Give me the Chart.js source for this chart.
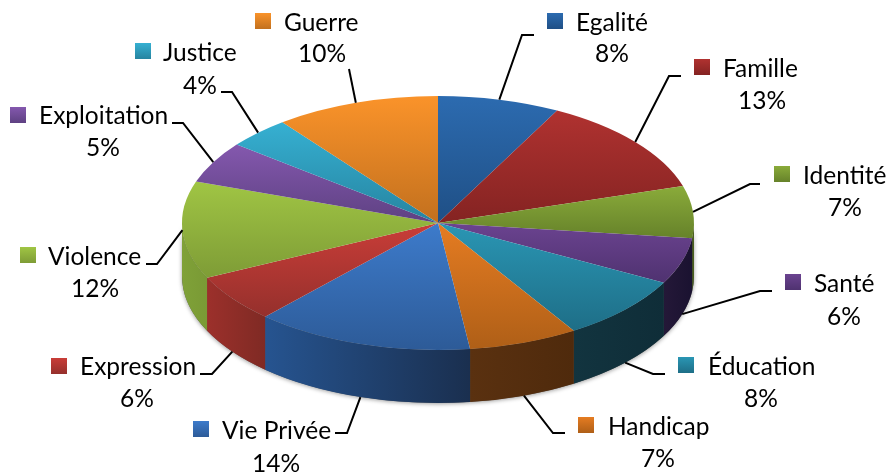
<!DOCTYPE html>
<html>
<head>
<meta charset="utf-8">
<script src="https://cdn.jsdelivr.net/npm/chart.js@4"></script>
<style>
  html, body { margin: 0; padding: 0; background: #fff; }
  canvas { display: block; }
</style>
</head>
<body>
<canvas id="grafico" width="890" height="472"></canvas>
<script>
// Dados (os rótulos mostram o valor arredondado)
const categories = ["Egalité", "Famille", "Identité", "Santé", "Éducation", "Handicap",
    "Vie Privée", "Expression", "Violence", "Exploitation", "Justice", "Guerre"];
const shares = [7.7, 12.6, 6.6, 5.9, 8.3, 6.9, 13.8, 6.1, 12.4, 5.3, 4.0, 10.4];

// Cores: topo claro -> topo escuro, lateral direita -> lateral esquerda
const lightColors = ["#2C6BB0", "#B03230", "#8AAB3A", "#6B4390", "#2A96B4", "#E57C22",
    "#3D7BCB", "#C93D38", "#A0C544", "#8458AE", "#36B0D2", "#FA932A"];
const darkColors = ["#1F4F85", "#842322", "#66822A", "#4F3270", "#1E6E87", "#AF5F17",
    "#2D5B98", "#95302C", "#7E9C36", "#5E4182", "#2684A0", "#C2701E"];
const sideRight = ["#1a3a60", "#5e1a18", "#4a5f1e", "#1a1230", "#0F2D38", "#4F2A0C",
    "#1A2F4F", "#7F2A24", "#7A9A35", "#4a3368", "#1c6a80", "#8f5316"];
const sideLeft = ["#1a3a60", "#5e1a18", "#4a5f1e", "#241838", "#12343F", "#5A3110",
    "#265490", "#9C302B", "#7FA138", "#4a3368", "#1c6a80", "#8f5316"];

// Posição da pizza na tela
const pie = { x: 438, y: 223, rx: 256, ry: 127, depth: 53 };

// Caixa de cada rótulo: quadradinho, texto, percentual, cotovelo da linha
const labelLayout = [
    { sx: 547, sy: 13, tx: 576, ty: 23, px: 612, py: 54, line: [[522, 35], [534, 35]] },
    { sx: 694, sy: 59, tx: 723, ty: 69, px: 762, py: 101, line: [[669, 76], [681, 76]] },
    { sx: 774, sy: 166, tx: 803, ty: 176, px: 845, py: 208, line: [[750, 184], [760, 184]] },
    { sx: 785, sy: 274, tx: 814, ty: 284, px: 844, py: 317, line: [[760, 291], [772, 291]] },
    { sx: 678, sy: 357, tx: 708, ty: 367, px: 761, py: 399, line: [[653, 374], [665, 374]] },
    { sx: 578, sy: 417, tx: 608, ty: 427, px: 658, py: 459, line: [[553, 433], [565, 433]] },
    { sx: 193, sy: 421, tx: 222, ty: 431, px: 276, py: 464, line: [[347, 433], [335, 433]] },
    { sx: 51, sy: 358, tx: 80, ty: 367, px: 137, py: 399, line: [[212, 374], [200, 374]] },
    { sx: 20, sy: 247, tx: 48, ty: 257, px: 95, py: 289, line: [[157, 264], [146, 264]] },
    { sx: 10, sy: 107, tx: 39, ty: 116, px: 103, py: 148, line: [[183, 123], [172, 123]] },
    { sx: 135, sy: 43, tx: 163, ty: 53, px: 200, py: 86, line: [[232, 92], [221, 92]] },
    { sx: 255, sy: 13, tx: 284, ty: 23, px: 322, py: 54, line: [[349, 69]] }
];

// Gradiente vertical do topo de cada fatia, em coordenadas do próprio gráfico
function sliceGradient(c) {
    const area = c.chart.chartArea;
    if (!area) return lightColors[c.dataIndex];
    const total = shares.reduce((a, b) => a + b, 0);
    const before = shares.slice(0, c.dataIndex).reduce((a, b) => a + b, 0);
    const a0 = (before / total) * Math.PI * 2 - Math.PI / 2;
    const a1 = ((before + shares[c.dataIndex]) / total) * Math.PI * 2 - Math.PI / 2;
    const cy = (area.top + area.bottom) / 2;
    const r = Math.min(area.width, area.height) / 2;
    let top = Math.min(0, Math.sin(a0), Math.sin(a1));
    let bottom = Math.max(0, Math.sin(a0), Math.sin(a1));
    const g = c.chart.ctx.createLinearGradient(0, cy + top * r, 0, cy + bottom * r);
    g.addColorStop(0, lightColors[c.dataIndex]);
    g.addColorStop(1, darkColors[c.dataIndex]);
    return g;
}

const pie3d = {
    id: "pie3d",
    beforeDatasetsDraw(chart) {
        const ctx = chart.ctx;
        const arcs = chart.getDatasetMeta(0).data;

        // sombra leve embaixo
        ctx.save();
        ctx.shadowColor = "rgba(0,0,0,0.4)";
        ctx.shadowBlur = 4;
        ctx.shadowOffsetY = 1;
        ctx.fillStyle = "#555";
        ctx.beginPath();
        ctx.ellipse(pie.x, pie.y, pie.rx, pie.ry, 0, 0, Math.PI);
        ctx.ellipse(pie.x, pie.y + pie.depth, pie.rx, pie.ry, 0, Math.PI, 0, true);
        ctx.closePath();
        ctx.fill();
        ctx.restore();

        // laterais visíveis (metade da frente)
        arcs.forEach(function (arc, i) {
            const p = arc.getProps(["startAngle", "endAngle"], true);
            const a = Math.max(p.startAngle, 0);
            const b = Math.min(p.endAngle, Math.PI);
            if (b <= a) return;
            const g = ctx.createLinearGradient(pie.x + pie.rx * Math.cos(a), 0, pie.x + pie.rx * Math.cos(b), 0);
            g.addColorStop(0, sideRight[i]);
            g.addColorStop(1, sideLeft[i]);
            ctx.fillStyle = g;
            ctx.beginPath();
            ctx.ellipse(pie.x, pie.y, pie.rx, pie.ry, 0, a, b);
            ctx.ellipse(pie.x, pie.y + pie.depth, pie.rx, pie.ry, 0, b, a, true);
            ctx.closePath();
            ctx.fill();
        });

        // achata o círculo do Chart.js na elipse do topo
        const first = arcs[0].getProps(["x", "y", "outerRadius"], true);
        ctx.save();
        ctx.translate(pie.x, pie.y);
        ctx.scale(pie.rx / first.outerRadius, pie.ry / first.outerRadius);
        ctx.translate(-first.x, -first.y);
    },
    afterDatasetsDraw(chart) {
        const ctx = chart.ctx;
        ctx.restore();

        const arcs = chart.getDatasetMeta(0).data;
        ctx.font = "24.5px Lato, Carlito, sans-serif";
        ctx.textBaseline = "middle";
        ctx.fillStyle = "#000";

        arcs.forEach(function (arc, i) {
            const p = arc.getProps(["startAngle", "endAngle"], true);
            const mid = (p.startAngle + p.endAngle) / 2;
            const box = labelLayout[i];

            // linha guia saindo da borda da fatia
            let y0 = pie.y + pie.ry * Math.sin(mid);
            if (Math.sin(mid) > 0.1) y0 += pie.depth;
            ctx.strokeStyle = "#000";
            ctx.lineWidth = 2;
            ctx.beginPath();
            ctx.moveTo(pie.x + pie.rx * Math.cos(mid), y0);
            box.line.forEach(pt => ctx.lineTo(pt[0], pt[1]));
            ctx.stroke();

            // quadradinho da legenda
            const g = ctx.createLinearGradient(0, box.sy, 0, box.sy + 16);
            g.addColorStop(0, lightColors[i]);
            g.addColorStop(1, darkColors[i]);
            ctx.fillStyle = g;
            ctx.fillRect(box.sx, box.sy, 16, 16);

            ctx.fillStyle = "#000";
            ctx.textAlign = "left";
            ctx.fillText(categories[i], box.tx, box.ty);
            ctx.textAlign = "center";
            ctx.fillText(Math.round(shares[i]) + "%", box.px, box.py);
        });
    }
};

new Chart(document.getElementById("grafico"), {
    type: "pie",
    data: {
        labels: categories,
        datasets: [{
            data: shares,
            backgroundColor: sliceGradient,
            borderWidth: 0
        }]
    },
    options: {
        responsive: false,
        animation: false,
        plugins: {
            legend: { display: false },
            tooltip: { enabled: false }
        }
    },
    plugins: [pie3d]
});
</script>
</body>
</html>
